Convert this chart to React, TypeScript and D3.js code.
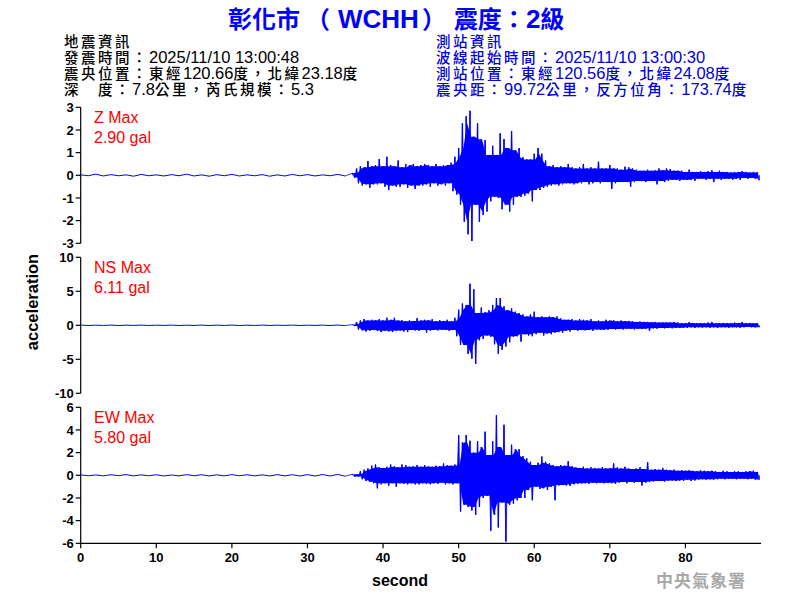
import React from "react";
import * as d3 from "d3";

// ---------- data ----------
const TITLE_PARTS = ["彰化市", "（", "WCHH", "）", "震度：", "2", "級"];
const LEFT_INFO = [
  "地震資訊",
  "發震時間：2025/11/10 13:00:48",
  "震央位置：東經120.66度，北緯23.18度",
  "深　度：7.8公里，芮氏規模：5.3",
];
const RIGHT_INFO = [
  "測站資訊",
  "波線起始時間：2025/11/10 13:00:30",
  "測站位置：東經120.56度，北緯24.08度",
  "震央距：99.72公里，反方位角：173.74度",
];
const CHANNELS = ["Z", "NS", "EW"];
const MAX_LABELS = ["2.90 gal", "6.11 gal", "5.80 gal"];
const Y_LIMITS = [3, 10, 6];
const Y_TICKS = [
  [3, 2, 1, 0, -1, -2, -3],
  [10, 5, 0, -5, -10],
  [6, 4, 2, 0, -2, -4, -6],
];
const X_TICKS = [0, 10, 20, 30, 40, 50, 60, 70, 80];
const X_MAX = 90;

// pre-event noise, one max/min pair every 2 s from 0 s
const PRE_STEP = 2;
const zPreMax = [0.02, 0.05, 0.03, 0.02, 0.04, 0.02, 0.03, 0.05, 0.02, 0.03, 0.04, 0.02, 0.03, 0.02, 0.04, 0.03, 0.02, 0.04];
const zPreMin = [-0.02, -0.03, -0.02, -0.04, -0.02, -0.03, -0.02, -0.03, -0.04, -0.02, -0.03, -0.02, -0.04, -0.03, -0.02, -0.03, -0.02, -0.03];
const nsPreMax = [0.03, 0.02, 0.03, 0.02, 0.03, 0.02, 0.03, 0.02, 0.03, 0.02, 0.03, 0.02, 0.03, 0.02, 0.03, 0.02, 0.03, 0.03];
const nsPreMin = [-0.03, -0.02, -0.03, -0.02, -0.03, -0.02, -0.03, -0.02, -0.03, -0.02, -0.03, -0.02, -0.03, -0.02, -0.03, -0.02, -0.03, -0.03];
const ewPreMax = [0.04, 0.03, 0.05, 0.06, 0.04, 0.05, 0.03, 0.06, 0.05, 0.04, 0.06, 0.05, 0.04, 0.06, 0.05, 0.06, 0.07, 0.08];
const ewPreMin = [-0.04, -0.05, -0.03, -0.05, -0.04, -0.06, -0.05, -0.04, -0.06, -0.05, -0.04, -0.05, -0.06, -0.05, -0.06, -0.07, -0.06, -0.08];

// event part, one max/min pair every 0.5 s from 36 s
const EVT_START = 36;
const EVT_STEP = 0.5;
const zMax = [
  0.1, 0.3, 0.4, 0.35, 0.63, 0.4, 0.45, 0.72, 0.4, 0.82,
  0.45, 0.4, 0.65, 0.35, 0.5, 0.45, 0.5, 0.4, 0.45, 0.5,
  0.45, 0.4, 0.5, 0.4, 0.45, 0.45, 0.55, 0.82, 1.2, 2.3,
  2.6, 2.85, 1.7, 2.3, 1.6, 1.55, 0.9, 1.3, 0.9, 1.85,
  1.6, 1.2, 1.95, 1.1, 1.2, 0.8, 0.7, 0.7, 0.95, 1.2,
  0.95, 0.65, 0.4, 0.45, 0.35, 0.4, 0.35, 0.5, 0.35, 0.3,
  0.35, 0.5, 0.3, 0.35, 0.3, 0.6, 0.3, 0.3, 0.45, 0.3,
  0.3, 0.25, 0.38, 0.35, 0.3, 0.25, 0.2, 0.2, 0.25, 0.2,
  0.22, 0.3, 0.22, 0.3, 0.28, 0.2, 0.2, 0.2, 0.15, 0.25,
  0.15, 0.15, 0.18, 0.15, 0.18, 0.22, 0.15, 0.2, 0.15, 0.15,
  0.12, 0.15, 0.15, 0.18, 0.15, 0.12, 0.15, 0.12,
];
const zMin = [
  -0.1, -0.35, -0.45, -0.4, -0.55, -0.4, -0.4, -0.35, -0.5, -0.65,
  -0.45, -0.5, -0.5, -0.4, -0.55, -0.45, -0.6, -0.45, -0.45, -0.4,
  -0.5, -0.35, -0.45, -0.4, -0.45, -0.35, -0.7, -0.85, -1.3, -2.05,
  -2.6, -2.9, -1.3, -2.05, -1.75, -1.6, -1.15, -0.95, -1.0, -1.5,
  -1.3, -1.6, -1.3, -0.95, -0.95, -0.9, -0.8, -1.15, -0.65, -0.65,
  -0.55, -0.5, -0.45, -0.4, -0.45, -0.4, -0.35, -0.35, -0.4, -0.35,
  -0.35, -0.3, -0.4, -0.35, -0.3, -0.35, -0.3, -0.3, -0.6, -0.35,
  -0.3, -0.3, -0.3, -0.5, -0.3, -0.25, -0.25, -0.3, -0.25, -0.25,
  -0.4, -0.25, -0.3, -0.25, -0.2, -0.2, -0.25, -0.2, -0.2, -0.2,
  -0.25, -0.15, -0.15, -0.2, -0.15, -0.3, -0.15, -0.2, -0.15, -0.15,
  -0.2, -0.15, -0.2, -0.12, -0.15, -0.12, -0.15, -0.22,
];
const nsMax = [
  0.1, 0.5, 0.7, 0.93, 0.7, 0.8, 0.75, 0.9, 0.7, 1.1,
  0.8, 1.1, 0.7, 0.75, 0.6, 0.75, 0.65, 1.05, 0.7, 0.8,
  0.75, 0.9, 0.6, 0.75, 0.65, 0.8, 0.6, 1.1, 2.3, 3.2,
  3.0, 6.1, 5.3, 1.8, 2.6, 1.9, 2.2, 3.0, 4.0, 4.0,
  2.8, 2.2, 2.5, 2.0, 1.8, 1.6, 1.3, 1.6, 2.0, 1.2,
  1.3, 1.2, 1.3, 1.2, 1.3, 1.0, 0.8, 0.8, 0.9, 0.7,
  0.9, 0.8, 0.7, 0.9, 0.6, 0.7, 0.6, 0.8, 0.7, 0.75,
  0.6, 0.7, 0.6, 0.65, 0.6, 0.5, 0.55, 0.5, 0.5, 0.45,
  0.5, 0.4, 0.45, 0.45, 0.4, 0.5, 0.4, 0.3, 0.35, 0.45,
  0.35, 0.3, 0.35, 0.3, 0.4, 0.5, 0.3, 0.3, 0.35, 0.3,
  0.3, 0.4, 0.35, 0.5, 0.3, 0.35, 0.3, 0.3,
];
const nsMin = [
  -0.1, -0.6, -0.75, -0.9, -0.8, -0.7, -0.85, -1.0, -0.8, -0.9,
  -1.0, -0.8, -0.75, -0.9, -1.0, -0.7, -0.75, -0.8, -0.7, -1.05,
  -0.8, -0.7, -0.75, -0.65, -0.7, -0.8, -0.7, -1.6, -2.9, -2.9,
  -4.2, -4.9, -5.7, -2.2, -2.0, -1.5, -1.7, -2.8, -4.2, -3.6,
  -3.1, -2.5, -1.7, -1.6, -2.4, -1.3, -1.5, -1.6, -1.3, -1.1,
  -1.5, -1.2, -1.3, -1.1, -1.0, -1.1, -0.8, -0.9, -0.7, -0.8,
  -0.7, -0.75, -0.7, -0.8, -0.6, -0.7, -0.65, -0.7, -0.55, -0.6,
  -0.55, -0.6, -0.5, -0.55, -0.6, -0.5, -0.55, -0.5, -0.8, -0.45,
  -0.5, -0.4, -0.45, -0.4, -0.45, -0.35, -0.4, -0.35, -0.4, -0.3,
  -0.4, -0.3, -0.35, -0.3, -0.35, -0.3, -0.4, -0.3, -0.3, -0.35,
  -0.3, -0.3, -0.35, -0.3, -0.25, -0.3, -0.3, -0.3,
];
const ewMax = [
  0.1, 0.1, 0.35, 0.5, 0.6, 0.85, 0.95, 0.7, 0.65, 0.75,
  0.95, 0.8, 0.7, 0.95, 0.9, 0.75, 0.8, 0.9, 0.75, 0.9,
  0.8, 0.75, 0.85, 0.8, 1.05, 0.9, 0.85, 0.95, 3.55, 2.9,
  3.55, 3.05, 2.0, 3.0, 2.5, 3.85, 1.8, 3.0, 5.3, 2.5,
  4.45, 1.8, 2.7, 2.3, 2.3, 1.7, 1.5, 1.2, 0.9, 1.1,
  1.65, 1.2, 1.05, 0.9, 0.8, 0.9, 0.85, 1.25, 0.8, 0.7,
  0.65, 0.75, 0.6, 0.7, 0.65, 0.6, 0.7, 0.6, 0.65, 1.05,
  0.7, 0.6, 0.75, 0.6, 0.55, 0.6, 0.7, 0.55, 1.15, 0.5,
  0.55, 0.5, 0.65, 0.5, 0.45, 0.5, 0.4, 0.45, 0.4, 0.45,
  0.4, 0.35, 0.45, 0.4, 0.35, 0.4, 0.35, 0.3, 0.4, 0.35,
  0.3, 0.35, 0.35, 0.3, 0.35, 0.35, 0.4, 0.3,
];
const ewMin = [
  -0.1, -0.1, -0.35, -0.5, -0.6, -0.7, -1.15, -0.8, -0.7, -0.9,
  -0.7, -1.0, -0.7, -0.75, -0.8, -0.7, -0.8, -0.8, -0.7, -0.75,
  -0.8, -0.7, -0.75, -0.65, -0.8, -0.7, -0.8, -0.7, -3.2, -2.6,
  -2.8, -3.1, -3.5, -2.8, -2.0, -1.8, -4.9, -3.5, -4.6, -2.4,
  -5.85, -2.6, -2.5, -2.2, -2.0, -2.0, -1.3, -2.2, -1.0, -1.2,
  -1.15, -1.3, -1.0, -2.2, -0.9, -0.85, -0.9, -0.95, -0.8, -0.75,
  -0.7, -0.7, -0.75, -0.65, -0.7, -0.65, -0.7, -0.65, -0.7, -0.75,
  -0.65, -0.6, -0.7, -0.6, -0.65, -0.6, -0.9, -0.65, -0.6, -0.55,
  -0.5, -0.5, -0.55, -0.5, -0.45, -0.5, -0.45, -0.5, -0.4, -0.5,
  -0.45, -0.4, -0.35, -0.4, -0.35, -0.4, -0.35, -0.3, -0.35, -0.3,
  -0.3, -0.35, -0.3, -0.3, -0.35, -0.3, -0.4, -0.4,
];

const PRE = [
  [zPreMax, zPreMin],
  [nsPreMax, nsPreMin],
  [ewPreMax, ewPreMin],
];
const EVT = [
  [zMax, zMin],
  [nsMax, nsMin],
  [ewMax, ewMin],
];

// ---------- layout ----------
const W = 800;
const H = 600;
const PLOT_LEFT = 80.7;
const PLOT_RIGHT = 761;
const PANEL_TOP = 107.3;
const PANEL_H = 136;
const PANEL_STEP = 150;
const LATIN = "'Liberation Sans', Arial, 'Noto Sans CJK TC', sans-serif";
const CJK = "'Noto Sans CJK TC', 'Noto Sans CJK SC', sans-serif";
const TRACE = "#0000ff";

type Pt = [number, number];
type Env = { t: number; hi: number; lo: number };

function buildPre(pre: number[][]): Pt[] {
  const pts: Pt[] = [];
  const [pMax, pMin] = pre;
  pMax.forEach((v, i) => {
    pts.push([i * PRE_STEP, v]);
    pts.push([i * PRE_STEP + PRE_STEP / 2, pMin[i]]);
  });
  return pts;
}
// the dense core band: the smallest swing among neighbouring bins
function buildCore(evt: number[][]): Env[] {
  const [eMax, eMin] = evt;
  return eMax.map((_, i) => {
    const a = Math.max(0, i - 1);
    const b = Math.min(eMax.length, i + 2);
    return {
      t: EVT_START + i * EVT_STEP + EVT_STEP / 4,
      hi: d3.min(eMax.slice(a, b)) as number,
      lo: d3.max(eMin.slice(a, b)) as number,
    };
  });
}
// individual spikes: one up-stroke at each bin start, one down-stroke mid-bin
function buildSpikes(evt: number[][]): Pt[] {
  const [eMax, eMin] = evt;
  const out: Pt[] = [];
  eMax.forEach((v, i) => {
    const t = EVT_START + i * EVT_STEP;
    out.push([t, v]);
    out.push([t + EVT_STEP / 2, eMin[i]]);
  });
  return out;
}

// split a string into CJK / non-CJK runs so each gets its own font settings
function runs(s: string): { cjk: boolean; text: string }[] {
  const out: { cjk: boolean; text: string }[] = [];
  for (const ch of s) {
    const isCjk = /[\u3000-\u303f\u4e00-\u9fff\uff00-\uffef]/.test(ch);
    const last = out[out.length - 1];
    if (last && last.cjk === isCjk) last.text += ch;
    else out.push({ cjk: isCjk, text: ch });
  }
  return out;
}

function InfoLine({ s, x, y, fill }: { s: string; x: number; y: number; fill: string }) {
  return (
    <text x={x} y={y} fill={fill}>
      {runs(s).map((r, i) =>
        r.cjk ? (
          <tspan key={i} fontFamily={CJK} fontSize={14.5} letterSpacing={2.5} fontWeight={500}>
            {r.text}
          </tspan>
        ) : (
          <tspan key={i} fontFamily={LATIN} fontSize={16.5}>
            {r.text}
          </tspan>
        )
      )}
    </text>
  );
}

export default function App() {
  const x = d3.scaleLinear().domain([0, X_MAX]).range([PLOT_LEFT, PLOT_RIGHT]);
  const bottomY = PANEL_TOP + 2 * PANEL_STEP + PANEL_H;

  return (
    <svg
      width={W}
      height={H}
      style={{ position: "absolute", left: 0, top: 0, background: "#fff" }}
      fontFamily={LATIN}
    >
      <rect x={0} y={0} width={W} height={H} fill="#fff" />
      <text x={228} y={28} fontWeight="bold" fill="#0000ff">
        <tspan fontFamily={CJK} fontSize={24}>{TITLE_PARTS[0]}</tspan>
        <tspan dx={6} fontFamily={CJK} fontSize={24}>{TITLE_PARTS[1]}</tspan>
        <tspan dx={8} fontFamily={LATIN} fontSize={26}>{TITLE_PARTS[2]}</tspan>
        <tspan dx={3} fontFamily={CJK} fontSize={24}>{TITLE_PARTS[3]}</tspan>
        <tspan dx={8} fontFamily={CJK} fontSize={24}>{TITLE_PARTS[4]}</tspan>
        <tspan fontFamily={LATIN} fontSize={26}>{TITLE_PARTS[5]}</tspan>
        <tspan fontFamily={CJK} fontSize={24}>{TITLE_PARTS[6]}</tspan>
      </text>
      {LEFT_INFO.map((s, i) => (
        <InfoLine key={"l" + i} s={s} x={64} y={47 + i * 16} fill="#000" />
      ))}
      {RIGHT_INFO.map((s, i) => (
        <InfoLine key={"r" + i} s={s} x={436} y={47 + i * 16} fill="#0000dd" />
      ))}

      {CHANNELS.map((ch, p) => {
        const top = PANEL_TOP + p * PANEL_STEP;
        const lim = Y_LIMITS[p];
        const y = d3.scaleLinear().domain([-lim, lim]).range([top + PANEL_H, top]);
        const line = d3
          .line<Pt>()
          .x((d) => x(d[0]))
          .y((d) => y(d[1]));
        const area = d3
          .area<Env>()
          .x((d) => x(d.t))
          .y0((d) => y(d.lo))
          .y1((d) => y(d.hi));
        const pre = buildPre(PRE[p]);
        const core = buildCore(EVT[p]);
        const spikes = buildSpikes(EVT[p]);
        const y0 = y(0);
        return (
          <g key={ch}>
            <path d={line(pre) || ""} fill="none" stroke={TRACE} strokeWidth={1} />
            <path d={area(core) || ""} fill={TRACE} stroke="none" />
            <path
              d={spikes.map((d) => `M${x(d[0])},${y0}V${y(d[1])}`).join("")}
              fill="none"
              stroke={TRACE}
              strokeWidth={1.3}
            />
            <path
              d={line([pre[pre.length - 1], ...spikes] as Pt[]) || ""}
              fill="none"
              stroke={TRACE}
              strokeWidth={0.8}
            />
            <line x1={PLOT_LEFT} x2={PLOT_LEFT} y1={top} y2={top + PANEL_H} stroke="#000" strokeWidth={1.2} />
            {Y_TICKS[p].map((v) => (
              <g key={v}>
                <line x1={PLOT_LEFT - 5} x2={PLOT_LEFT} y1={y(v)} y2={y(v)} stroke="#000" strokeWidth={1.2} />
                <text
                  x={PLOT_LEFT - 7}
                  y={y(v)}
                  dy="0.36em"
                  textAnchor="end"
                  fontSize={13}
                  fontWeight="bold"
                  fill="#000"
                >
                  {v}
                </text>
              </g>
            ))}
            <text x={94} y={top + 15.5} fontSize={16} fill="#ff0000">
              {ch} Max
            </text>
            <text x={94} y={top + 35.5} fontSize={16} fill="#ff0000">
              {MAX_LABELS[p]}
            </text>
          </g>
        );
      })}

      <line x1={PLOT_LEFT} x2={PLOT_RIGHT} y1={bottomY} y2={bottomY} stroke="#000" strokeWidth={1.2} />
      {X_TICKS.map((t) => (
        <g key={t}>
          <line x1={x(t)} x2={x(t)} y1={bottomY} y2={bottomY + 5} stroke="#000" strokeWidth={1.2} />
          <text x={x(t)} y={bottomY + 19} textAnchor="middle" fontSize={13} fontWeight="bold" fill="#000">
            {t}
          </text>
        </g>
      ))}
      <text x={400} y={586} textAnchor="middle" fontSize={16} fontWeight="bold" fill="#000">
        second
      </text>
      <text
        transform="translate(38,302) rotate(-90)"
        textAnchor="middle"
        fontSize={16.5}
        fontWeight="bold"
        fill="#000"
      >
        acceleration
      </text>
      <text x={746} y={587} textAnchor="end" fontFamily={CJK} fontSize={17} fontWeight="bold" fill="#a8a8a8" letterSpacing={1}>
        中央氣象署
      </text>
    </svg>
  );
}
